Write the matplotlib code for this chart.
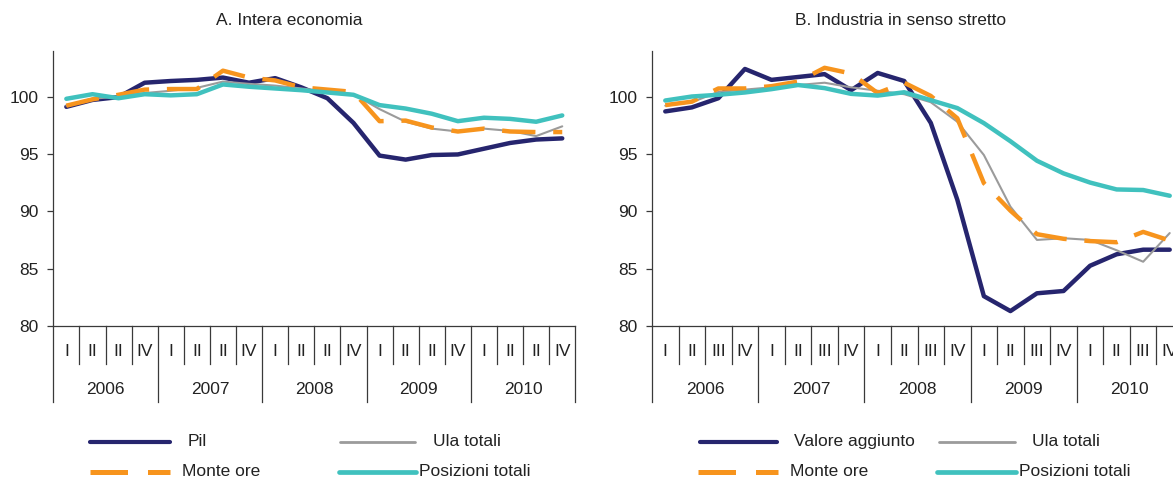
import matplotlib
matplotlib.use('Agg')
import matplotlib.pyplot as plt
from matplotlib.lines import Line2D
import matplotlib.transforms as mtransforms

plt.rcParams['font.family'] = ['Liberation Sans', 'DejaVu Sans']

# ---------------- data ----------------
years = ['2006', '2007', '2008', '2009', '2010']
quarters_a = ['I', 'II', 'II', 'IV'] * 5
quarters_b = ['I', 'II', 'III', 'IV'] * 5

# Panel A: Intera economia
pil_a = [99.1, 99.7, 99.95, 101.2, 101.35, 101.45, 101.65, 101.2, 101.6, 100.8,
         99.85, 97.7, 94.85, 94.5, 94.9, 94.95, 95.45, 95.95, 96.25, 96.35]
ula_a = [99.2, 99.8, 100.0, 100.3, 100.5, 100.75, 101.3, 101.1, 100.95, 100.7,
         100.45, 100.2, 98.9, 97.8, 97.2, 96.95, 97.2, 97.0, 96.55, 97.4]
ore_a = [99.2, 99.75, 100.15, 100.6, 100.65, 100.65, 102.25, 101.65, 101.4, 100.8,
         100.6, 100.4, 97.85, 97.9, 97.3, 96.95, 97.2, 96.95, 96.9, 96.9]
pos_a = [99.8, 100.2, 99.85, 100.2, 100.1, 100.2, 101.05, 100.85, 100.7, 100.55,
         100.35, 100.15, 99.25, 98.95, 98.5, 97.85, 98.15, 98.05, 97.8, 98.35]

# Panel B: Industria in senso stretto
va_b = [98.7, 99.05, 99.85, 102.4, 101.45, 101.7, 101.95, 100.55, 102.05, 101.35,
        97.7, 91.0, 82.6, 81.3, 82.85, 83.05, 85.25, 86.25, 86.65, 86.65]
ula_b = [99.2, 99.5, 100.4, 100.6, 100.8, 101.0, 101.2, 100.8, 100.5, 100.2,
         99.5, 97.8, 94.9, 90.4, 87.5, 87.65, 87.5, 86.6, 85.6, 88.1]
ore_b = [99.25, 99.55, 100.7, 100.7, 100.9, 101.3, 102.5, 102.0, 100.3, 101.2,
         100.05, 98.1, 92.45, 90.05, 88.0, 87.6, 87.4, 87.3, 88.2, 87.45]
pos_b = [99.65, 100.0, 100.15, 100.35, 100.64, 101.0, 100.73, 100.23, 100.08, 100.37,
         99.68, 98.99, 97.68, 96.1, 94.4, 93.3, 92.5, 91.9, 91.85, 91.35]

yticks = [80, 85, 90, 95, 100]

# ---------------- style ----------------
NAVY = '#26256e'
ORANGE = '#f7941d'
GRAY = '#9b9b9b'
TEAL = '#40c1be'
TXT = '#222222'
AXC = '#3a3a3a'
FS = 12.5
DASH = (0, (7.5, 4))

W, H = 1173, 482
fig = plt.figure(figsize=(W / 100, H / 100), dpi=100)


def fx(px):
    return px / W


def fy(py):
    return 1 - py / H


TOP, BOT = 50.6, 326.0
AXH = BOT - TOP

axA = fig.add_axes([fx(53.3), fy(BOT), (575.3 - 53.3) / W, AXH / H])
axB = fig.add_axes([fx(652.0), fy(BOT), 531.0 / W, AXH / H])


def draw_panel(ax, s_main, s_ula, s_ore, s_pos, qlabels):
    n = len(qlabels)
    x = list(range(n))
    ax.plot(x, s_main, color=NAVY, lw=3.2, solid_capstyle='round',
            solid_joinstyle='round', zorder=3)
    ax.plot(x, s_ula, color=GRAY, lw=1.5, solid_capstyle='round', zorder=4)
    ax.plot(x, s_ore, color=ORANGE, lw=3.2, linestyle=DASH, zorder=5)
    ax.plot(x, s_pos, color=TEAL, lw=3.2, solid_capstyle='round',
            solid_joinstyle='round', zorder=6)
    ax.set_xlim(-0.5, n - 0.5)
    ax.set_ylim(80, 104)
    ax.set_yticks(yticks)
    ax.set_yticklabels([str(v) for v in yticks])
    ax.set_xticks([])
    for sp in ['top', 'right']:
        ax.spines[sp].set_visible(False)
    for sp in ['left', 'bottom']:
        ax.spines[sp].set_color(AXC)
        ax.spines[sp].set_linewidth(0.9)
    ax.tick_params(axis='y', length=4.3, width=0.9, color=AXC, pad=6,
                   labelsize=FS, labelcolor=TXT)
    trans = mtransforms.blended_transform_factory(ax.transData, ax.transAxes)
    q_end = -38.0 / AXH
    y_end = -76.0 / AXH
    for i in range(n + 1):
        b = i - 0.5
        ymin = y_end if i % 4 == 0 else q_end
        ax.plot([b, b], [0, ymin], transform=trans, clip_on=False,
                color=AXC, lw=0.9)
    for i, q in enumerate(qlabels):
        ax.text(i, -25.0 / AXH, q, transform=trans, ha='center', va='center',
                fontsize=FS, color=TXT)
    for j, yr in enumerate(years):
        ax.text(4 * j + 1.5, -63.0 / AXH, yr, transform=trans, ha='center',
                va='center', fontsize=FS, color=TXT)


draw_panel(axA, pil_a, ula_a, ore_a, pos_a, quarters_a)
draw_panel(axB, va_b, ula_b, ore_b, pos_b, quarters_b)

fig.text(fx(289), fy(20.5), 'A. Intera economia', ha='center', va='center',
         fontsize=FS, color=TXT)
fig.text(fx(901), fy(20.5), 'B. Industria in senso stretto', ha='center',
         va='center', fontsize=FS, color=TXT)


def leg_line(x0, x1, y, color, lw, ls='-'):
    ln = Line2D([fx(x0), fx(x1)], [fy(y), fy(y)], transform=fig.transFigure,
                color=color, lw=lw, linestyle=ls, solid_capstyle='round')
    fig.add_artist(ln)


def leg_text(x, y, s):
    fig.text(fx(x), fy(y), s, ha='left', va='center', fontsize=FS, color=TXT)


R1, R2 = 441.5, 472.0
# left legend
leg_line(90, 170, R1, NAVY, 3.0)
leg_text(188, R1, 'Pil')
leg_line(340, 415, R1, GRAY, 2.0)
leg_text(433, R1, 'Ula totali')
leg_line(90, 170, R2, ORANGE, 3.6, DASH)
leg_text(182, R2, 'Monte ore')
leg_line(339, 416, R2, TEAL, 3.4)
leg_text(419, R2, 'Posizioni totali')
# right legend
leg_line(700, 777, R1, NAVY, 3.0)
leg_text(794, R1, 'Valore aggiunto')
leg_line(939, 1015, R1, GRAY, 2.0)
leg_text(1032, R1, 'Ula totali')
leg_line(698, 778, R2, ORANGE, 3.6, DASH)
leg_text(790, R2, 'Monte ore')
leg_line(937, 1016, R2, TEAL, 3.4)
leg_text(1019, R2, 'Posizioni totali')

fig.savefig('out.png', dpi=100)
